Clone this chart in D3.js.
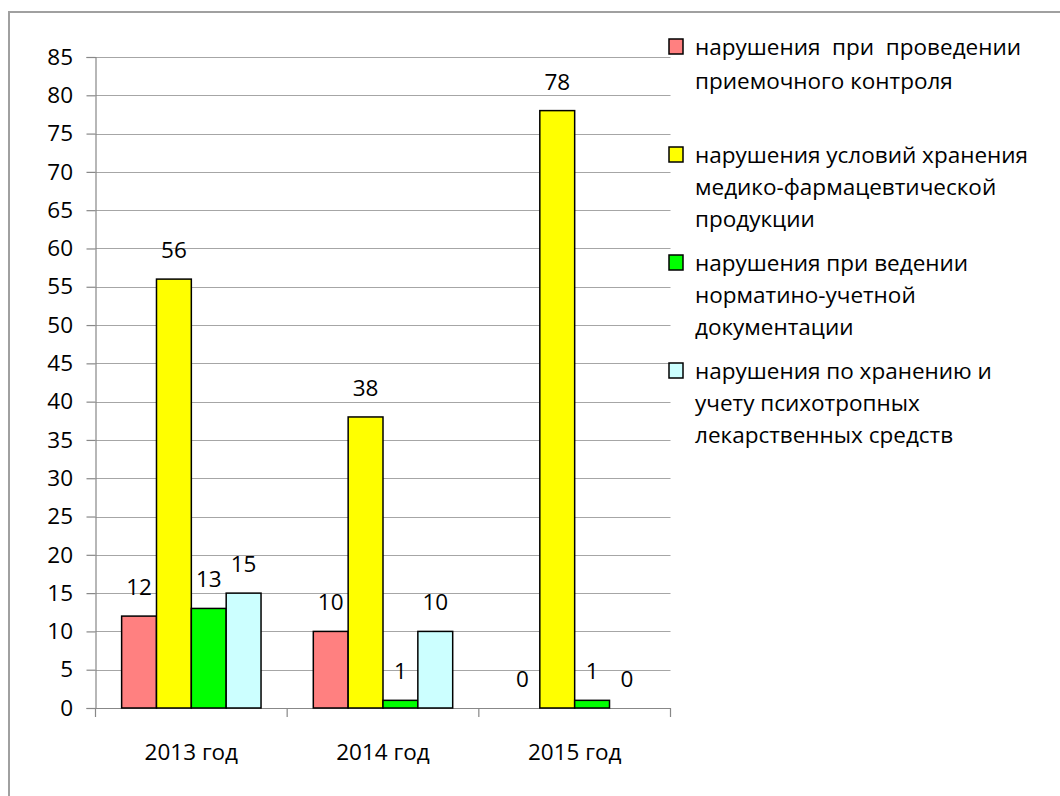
<!DOCTYPE html>
<html>
<head>
<meta charset="utf-8">
<script src="https://cdn.jsdelivr.net/npm/d3@7"></script>
<style>
  body { margin: 0; background: #fff; }
  text { font-family: "Open Sans", "Noto Sans", sans-serif; fill: #000; }
</style>
</head>
<body>
<div id="chart"></div>
<script>
// data
const years = ["2013 год", "2014 год", "2015 год"];
const seriesNames = [
  ["нарушения  при  проведении", "приемочного контроля"],
  ["нарушения условий хранения", "медико-фармацевтической", "продукции"],
  ["нарушения при ведении", "норматино-учетной", "документации"],
  ["нарушения по хранению и", "учету психотропных", "лекарственных средств"]
];
const seriesColors = ["#ff8080", "#ffff00", "#00ff00", "#ccffff"];
const values = [
  [12, 10, 0],   // приемочный контроль
  [56, 38, 78],  // условия хранения
  [13, 1, 1],    // нормативно-учетная документация
  [15, 10, 0]    // психотропные
];
const yTicks = d3.range(0, 86, 5);

const width = 1060, height = 796;
const plot = { left: 95.5, right: 670.5, top: 57, bottom: 708 };
const fontSize = 22.5;

const svg = d3.select("#chart").append("svg")
  .attr("width", width)
  .attr("height", height);

// frame
svg.append("path")
  .attr("d", `M9,${height} V12 H${width}`)
  .attr("fill", "none")
  .attr("stroke", "#a0a0a0")
  .attr("stroke-width", 2);

const x0 = d3.scaleBand()
  .domain(years)
  .range([plot.left, plot.right])
  .padding(0);

const x1 = d3.scaleBand()
  .domain(d3.range(values.length))
  .range([0, x0.bandwidth()])
  .paddingInner(0)
  .paddingOuter(0.75);

const y = d3.scaleLinear()
  .domain([0, 85])
  .range([plot.bottom, plot.top]);

// gridlines
svg.append("g")
  .selectAll("line")
  .data(yTicks)
  .join("line")
  .attr("x1", plot.left)
  .attr("x2", plot.right)
  .attr("y1", d => Math.round(y(d)) + 0.5)
  .attr("y2", d => Math.round(y(d)) + 0.5)
  .attr("stroke", "#a6a6a6")
  .attr("stroke-width", 1.2);

// y axis
const yAxis = svg.append("g")
  .attr("transform", `translate(${plot.left},0)`)
  .call(d3.axisLeft(y).tickValues(yTicks).tickSize(9).tickPadding(13.5));
yAxis.select(".domain").attr("stroke", "#888").attr("stroke-width", 1.2);
yAxis.selectAll(".tick line").attr("stroke", "#888").attr("stroke-width", 1.2);
yAxis.selectAll(".tick text")
  .attr("font-size", fontSize)
  .attr("fill", "#000")
  .style("font-family", "'Open Sans', 'Noto Sans', sans-serif");

// x axis
const xAxis = svg.append("g")
  .attr("transform", `translate(0,${plot.bottom})`);
xAxis.append("line")
  .attr("x1", plot.left).attr("x2", plot.right)
  .attr("y1", 0.5).attr("y2", 0.5)
  .attr("stroke", "#888").attr("stroke-width", 1.2);
xAxis.selectAll(".sep")
  .data(years.map(d => x0(d)).concat([plot.right]))
  .join("line")
  .attr("class", "sep")
  .attr("x1", d => d).attr("x2", d => d)
  .attr("y1", 0).attr("y2", 9)
  .attr("stroke", "#888").attr("stroke-width", 1.2);
xAxis.selectAll("text")
  .data(years)
  .join("text")
  .attr("x", d => x0(d) + x0.bandwidth() / 2)
  .attr("y", 52)
  .attr("text-anchor", "middle")
  .attr("font-size", fontSize)
  .text(d => d);

// bars
const cells = [];
values.forEach((row, s) => row.forEach((v, i) => cells.push({ s, year: years[i], v })));

svg.append("g")
  .selectAll("rect")
  .data(cells.filter(d => d.v > 0))
  .join("rect")
  .attr("x", d => x0(d.year) + x1(d.s))
  .attr("y", d => y(d.v))
  .attr("width", x1.bandwidth())
  .attr("height", d => y(0) - y(d.v))
  .attr("fill", d => seriesColors[d.s])
  .attr("stroke", "#000")
  .attr("stroke-width", 1.5);

// value labels
svg.append("g")
  .selectAll("text")
  .data(cells)
  .join("text")
  .attr("x", d => x0(d.year) + x1(d.s) + x1.bandwidth() / 2)
  .attr("y", d => y(d.v) - 21)
  .attr("text-anchor", "middle")
  .attr("font-size", fontSize)
  .text(d => d.v);

// legend
const legend = svg.append("g")
  .attr("transform", "translate(669,0)");
const items = legend.selectAll("g")
  .data(seriesNames)
  .join("g")
  .attr("transform", (d, i) => `translate(0,${48 + i * 108})`);
items.append("rect")
  .attr("x", 0).attr("y", -9)
  .attr("width", 14).attr("height", 15)
  .attr("fill", (d, i) => seriesColors[i])
  .attr("stroke", "#000")
  .attr("stroke-width", 1.5);
items.each(function (lines, i) {
  const t = d3.select(this).append("text")
    .attr("x", 26)
    .attr("y", 7)
    .attr("font-size", fontSize)
    .style("white-space", "pre");
  lines.forEach((ln, k) => {
    t.append("tspan")
      .attr("x", 26)
      .attr("dy", k === 0 ? 0 : (i === 0 ? 34 : 32))
      .text(ln);
  });
});
</script>
</body>
</html>
